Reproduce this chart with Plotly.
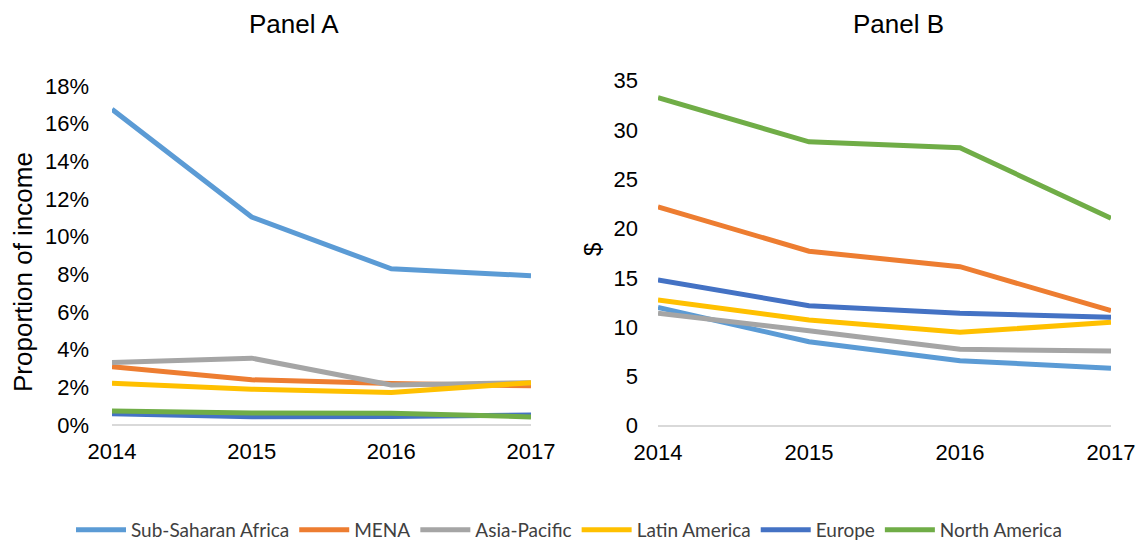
import plotly.graph_objects as go

years = [2014, 2015, 2016, 2017]
regions = ["Sub-Saharan Africa", "MENA", "Asia-Pacific", "Latin America", "Europe", "North America"]
colors = ["#5B9BD5", "#ED7D31", "#A5A5A5", "#FFC000", "#4472C4", "#70AD47"]

# Panel A: proportion of income
panel_a = {
    "Sub-Saharan Africa": [0.1676, 0.1104, 0.0829, 0.0793],
    "MENA": [0.0309, 0.0240, 0.0220, 0.0208],
    "Asia-Pacific": [0.0332, 0.0355, 0.0213, 0.0225],
    "Latin America": [0.0222, 0.0190, 0.0172, 0.0225],
    "Europe": [0.0060, 0.0044, 0.0045, 0.0053],
    "North America": [0.0075, 0.0064, 0.0062, 0.0043],
}
# Panel B: dollars
panel_b = {
    "Sub-Saharan Africa": [12.0, 8.52, 6.6, 5.82],
    "MENA": [22.2, 17.7, 16.13, 11.67],
    "Asia-Pacific": [11.4, 9.64, 7.75, 7.58],
    "Latin America": [12.75, 10.72, 9.47, 10.49],
    "Europe": [14.78, 12.17, 11.4, 11.0],
    "North America": [33.28, 28.8, 28.2, 21.04],
}

W, H = 1138, 545
fig = go.Figure()
for name, col in zip(regions, colors):
    fig.add_trace(go.Scatter(x=years, y=panel_a[name], mode="lines", name=name,
                             line=dict(color=col, width=5), xaxis="x", yaxis="y",
                             legendgroup=name, showlegend=True))
    fig.add_trace(go.Scatter(x=years, y=panel_b[name], mode="lines", name=name,
                             line=dict(color=col, width=5), xaxis="x2", yaxis="y2",
                             legendgroup=name, showlegend=False))

tickfont = dict(family="Liberation Sans, Arial, sans-serif", size=22, color="#000000")
xcommon = dict(range=[2014, 2017], tickvals=years, ticktext=[str(y) for y in years],
               showgrid=False, zeroline=False, showline=False, ticks="",
               ticklabelstandoff=11, ticklabeloverflow="allow",
               tickfont=tickfont, automargin=False)
ycommon = dict(showgrid=False, zeroline=True, zerolinecolor="#D9D9D9", zerolinewidth=2,
               showline=False, ticks="", tickfont=tickfont, automargin=False)

fig.update_layout(
    width=W, height=H, autosize=False,
    margin=dict(l=0, r=0, t=0, b=0, autoexpand=False),
    paper_bgcolor="white", plot_bgcolor="white",
    font=dict(family="Liberation Sans, Arial, sans-serif", color="#000000"),
    xaxis=dict(domain=[112 / W, 531 / W], anchor="y", **xcommon),
    yaxis=dict(domain=[1 - 425 / H, 1 - 86 / H], anchor="x", range=[0, 0.18],
               dtick=0.02, tickformat=".0%", ticklabelstandoff=22, **ycommon),
    xaxis2=dict(domain=[658 / W, 1111 / W], anchor="y2", **xcommon),
    yaxis2=dict(domain=[1 - 425.7 / H, 1 - 80.7 / H], anchor="x2", range=[0, 35],
                dtick=5, ticklabelstandoff=19, **ycommon),
    legend=dict(orientation="h", x=0.5, xanchor="center", y=1 - 530 / H, yanchor="middle",
                font=dict(family="Lato, Liberation Sans, sans-serif", size=19, color="#404040"),
                itemwidth=50, tracegroupgap=0, bgcolor="rgba(0,0,0,0)"),
    annotations=[
        dict(text="Panel A", x=294 / W, y=1 - 24 / H, xref="paper", yref="paper",
             showarrow=False, font=dict(size=26), xanchor="center", yanchor="middle"),
        dict(text="Panel B", x=898 / W, y=1 - 24 / H, xref="paper", yref="paper",
             showarrow=False, font=dict(size=26), xanchor="center", yanchor="middle"),
        dict(text="Proportion of income", x=23 / W, y=1 - 272 / H, xref="paper", yref="paper",
             showarrow=False, font=dict(size=26), textangle=-90,
             xanchor="center", yanchor="middle"),
        dict(text="$", x=592 / W, y=1 - 250 / H, xref="paper", yref="paper",
             showarrow=False, font=dict(size=24), textangle=-90,
             xanchor="center", yanchor="middle"),
    ],
)

fig.write_html(
    "out.html",
    config={"displayModeBar": False, "responsive": False},
    default_width=f"{W}px",
    default_height=f"{H}px",
    post_script="document.body.style.margin='0';document.body.style.overflow='hidden';",
)
